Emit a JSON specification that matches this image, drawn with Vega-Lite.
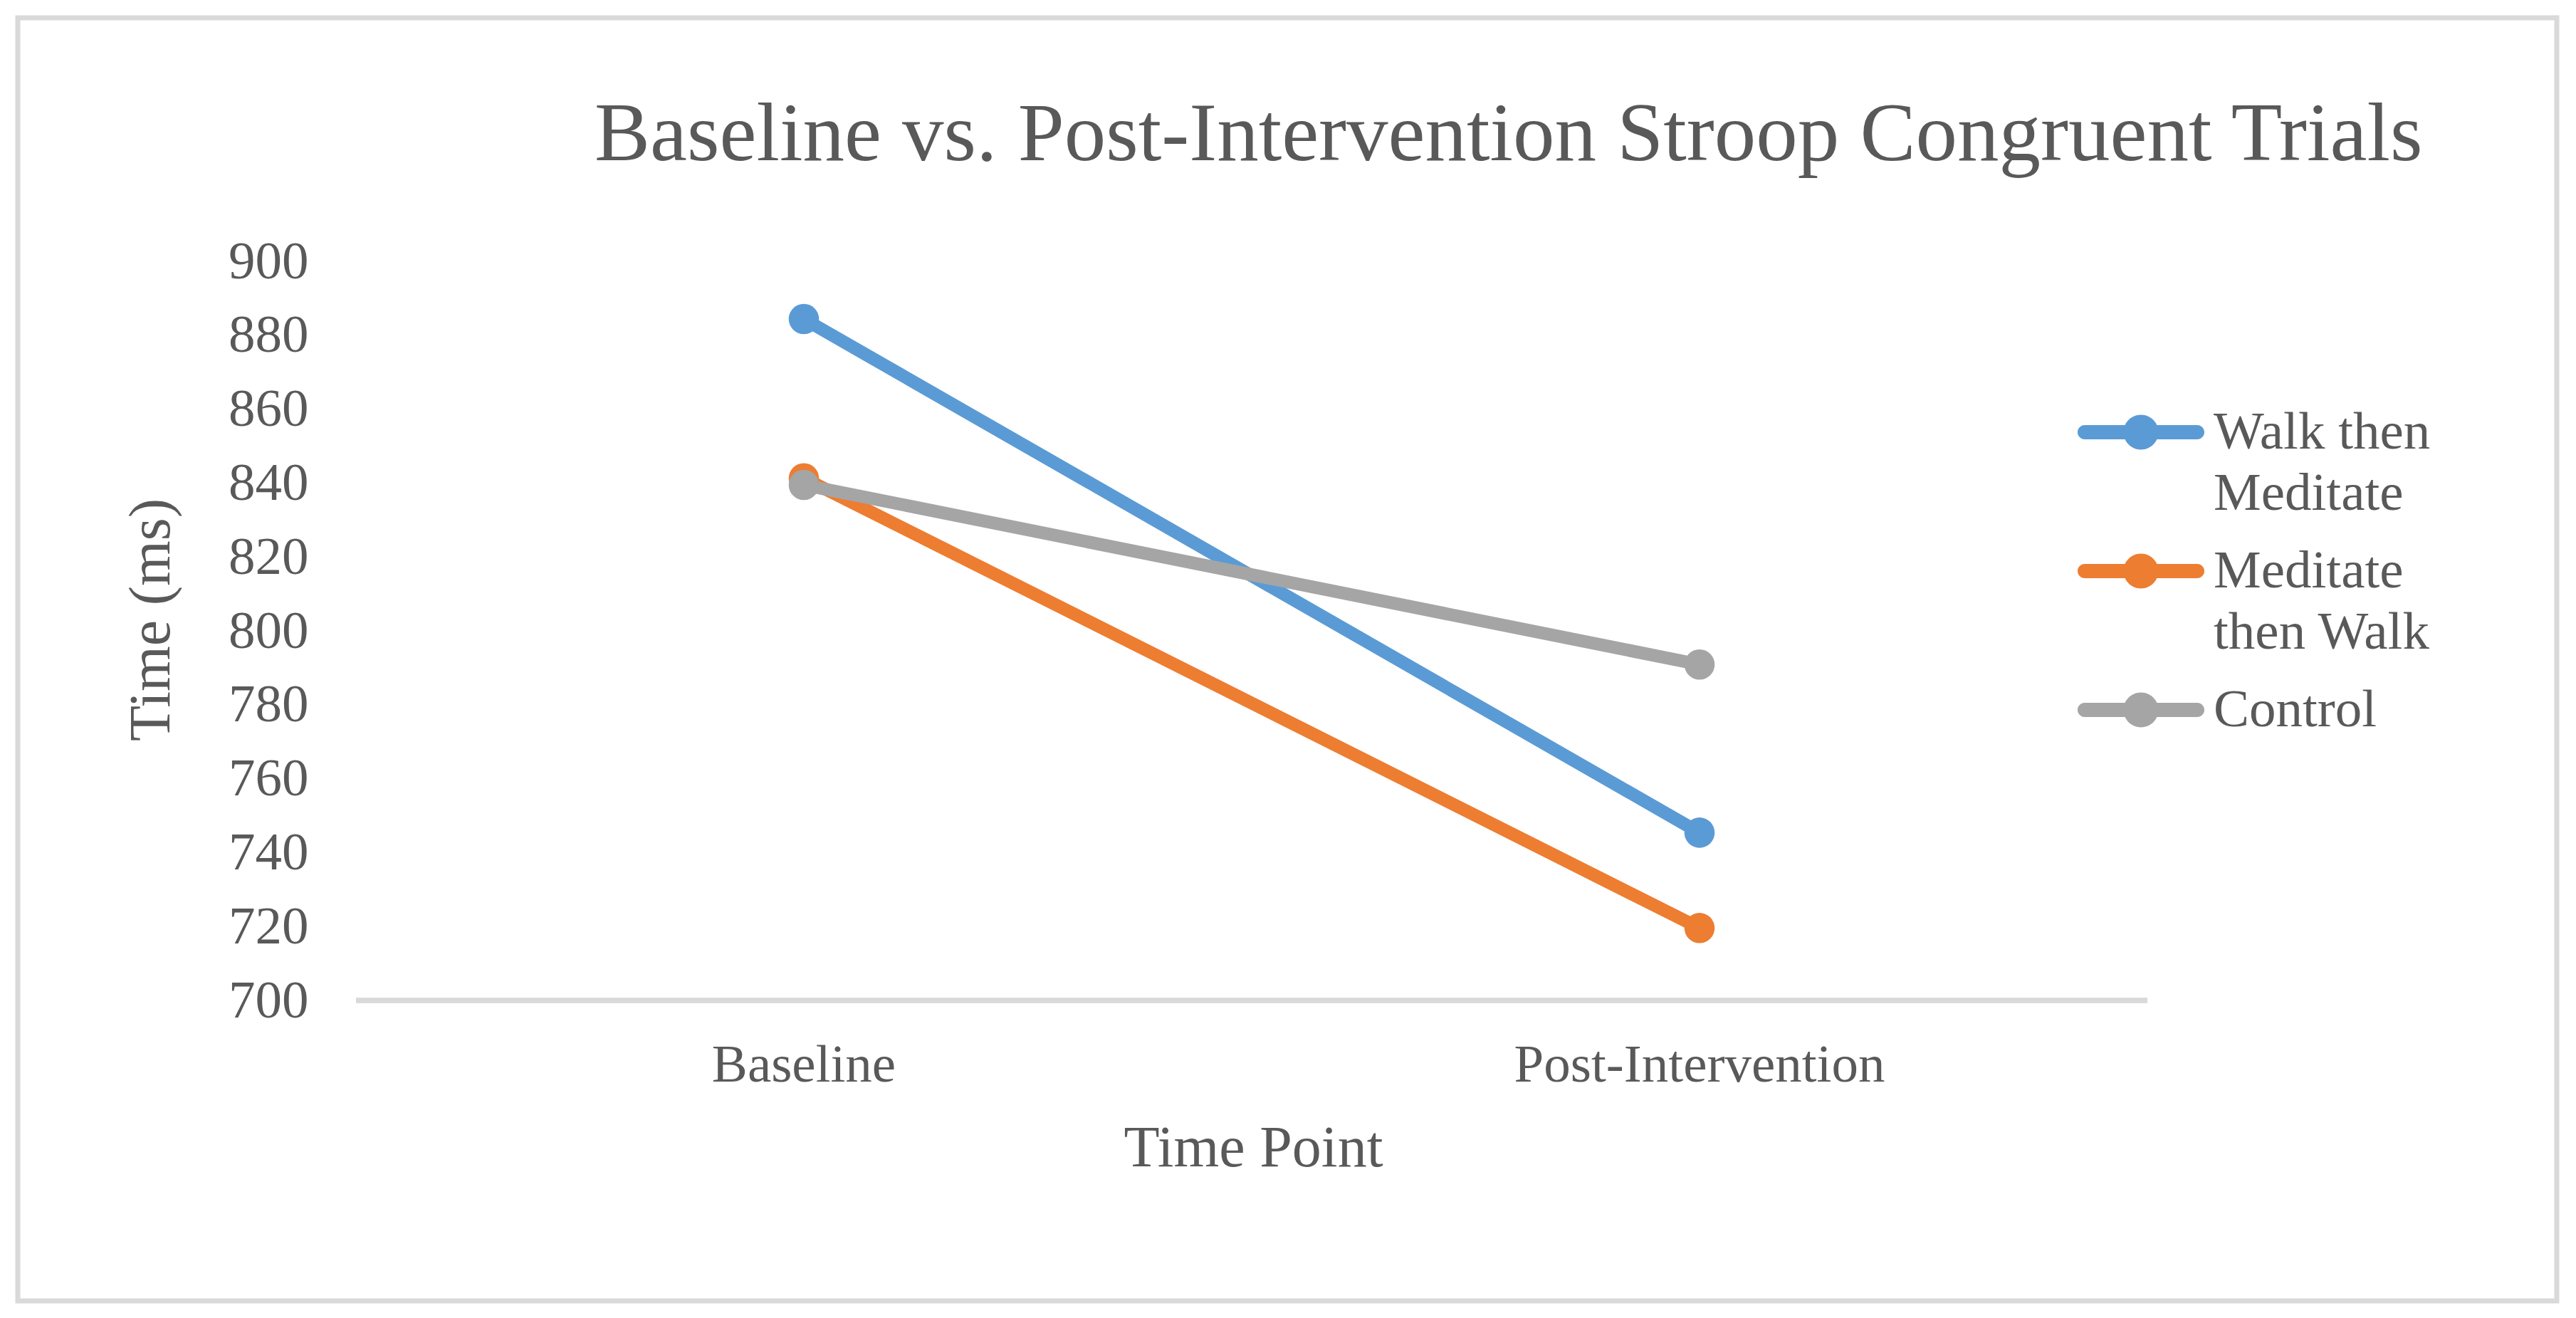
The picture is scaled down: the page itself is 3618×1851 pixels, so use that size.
{
  "$schema": "https://vega.github.io/schema/vega-lite/v6.json",
  "width": 3566,
  "height": 1802,
  "autosize": {"type": "none"},
  "padding": {"left": 25, "top": 25, "right": 27, "bottom": 24},
  "background": "white",
  "title": {
    "text": "Baseline vs. Post-Intervention Stroop Congruent Trials",
    "anchor": "start",
    "frame": "group",
    "dx": 810,
    "dy": 317,
    "offset": 0,
    "baseline": "alphabetic",
    "fontSize": 117,
    "font": "Liberation Serif",
    "fontWeight": "normal",
    "color": "#595959"
  },
  "data": {
    "values": [
      {"t": "Baseline", "g": "Walk then Meditate", "v": 884.4},
      {"t": "Post-Intervention", "g": "Walk then Meditate", "v": 745.4},
      {"t": "Baseline", "g": "Meditate then Walk", "v": 841.3},
      {"t": "Post-Intervention", "g": "Meditate then Walk", "v": 719.6},
      {"t": "Baseline", "g": "Control", "v": 839.5},
      {"t": "Post-Intervention", "g": "Control", "v": 790.9}
    ]
  },
  "encoding": {
    "y": {
      "field": "v",
      "type": "quantitative",
      "scale": {"domain": [618.69, 965.9], "nice": false, "zero": false},
      "axis": {
        "title": "Time (ms)",
        "values": [700, 720, 740, 760, 780, 800, 820, 840, 860, 880, 900],
        "offset": -475,
        "domain": false,
        "ticks": false,
        "tickSize": 0,
        "grid": false,
        "labelPadding": 67,
        "labelFontSize": 75,
        "labelColor": "#595959",
        "labelFont": "Liberation Serif",
        "labelLimit": 2000,
        "titleFont": "Liberation Serif",
        "titleFontSize": 82,
        "titleColor": "#595959",
        "titleFontWeight": "normal",
        "titleX": -263,
        "titleY": 845,
        "titleBaseline": "alphabetic"
      }
    }
  },
  "layer": [
    {
      "mark": {"type": "bar", "fill": "transparent", "stroke": "#D9D9D9", "strokeWidth": 7},
      "encoding": {
        "x": {
          "field": "t",
          "type": "nominal",
          "sort": ["Baseline", "Post-Intervention"],
          "scale": {"type": "band", "paddingInner": 0, "paddingOuter": 0.41733, "align": 0.45238},
          "axis": {
            "title": "Time Point",
            "offset": -422,
            "domain": false,
            "ticks": false,
            "tickSize": 0,
            "grid": false,
            "labelAngle": 0,
            "labelPadding": 54,
            "labelLimit": 3000,
            "labelFontSize": 75,
            "labelColor": "#595959",
            "labelFont": "Liberation Serif",
            "titleFont": "Liberation Serif",
            "titleFontSize": 82,
            "titleColor": "#595959",
            "titleFontWeight": "normal",
            "titleX": 1735,
            "titleY": 232,
            "titleBaseline": "alphabetic"
          }
        },
        "y": {"datum": 700},
        "y2": {"datum": 700}
      }
    },
    {
      "mark": {"type": "line", "strokeWidth": 18, "strokeCap": "round", "strokeJoin": "round"},
      "encoding": {
        "x": {"field": "t", "type": "nominal", "sort": ["Baseline", "Post-Intervention"], "bandPosition": 0.5},
        "color": {
          "field": "g",
          "type": "nominal",
          "scale": {"domain": ["Walk then Meditate", "Meditate then Walk", "Control"], "range": ["#5B9BD5", "#ED7D31", "#A5A5A5"]},
          "legend": {
            "orient": "none",
            "legendX": 2911,
            "legendY": 511,
            "title": null,
            "padding": 0,
            "rowPadding": 0,
            "direction": "vertical",
            "symbolType": "M-1.113,-0.141L1.113,-0.141A0.141,0.141,0,0,1,1.113,0.141L-1.113,0.141A0.141,0.141,0,0,1,-1.113,-0.141Z M0.345,0A0.345,0.345,0,1,1,-0.345,0A0.345,0.345,0,1,1,0.345,0Z",
            "symbolSize": 20164,
            "symbolStrokeWidth": 0,
            "labelFont": "Liberation Serif",
            "labelFontSize": 75,
            "labelColor": "#595959",
            "labelOffset": 31,
            "labelLimit": 3000,
            "labelBaseline": "middle",
            "labelExpr": "datum.label == 'Walk then Meditate' ? ['Walk then', 'Meditate'] : datum.label == 'Meditate then Walk' ? ['Meditate', 'then Walk'] : datum.label",
            "encode": {
              "symbols": {
                "update": {
                  "fill": {"scale": "color", "field": "value"},
                  "stroke": {"value": "transparent"},
                  "strokeWidth": {"value": 0},
                  "opacity": {"value": 1}
                }
              },
              "labels": {
                "update": {"lineHeight": {"value": 86}}
              }
            }
          }
        }
      }
    },
    {
      "mark": {"type": "point", "filled": true, "opacity": 1, "size": 1810, "shape": "circle"},
      "encoding": {
        "x": {"field": "t", "type": "nominal", "sort": ["Baseline", "Post-Intervention"], "bandPosition": 0.5},
        "color": {"field": "g", "type": "nominal"}
      }
    }
  ],
  "config": {
    "font": "Liberation Serif",
    "view": {"stroke": "#D9D9D9", "strokeWidth": 7}
  }
}
